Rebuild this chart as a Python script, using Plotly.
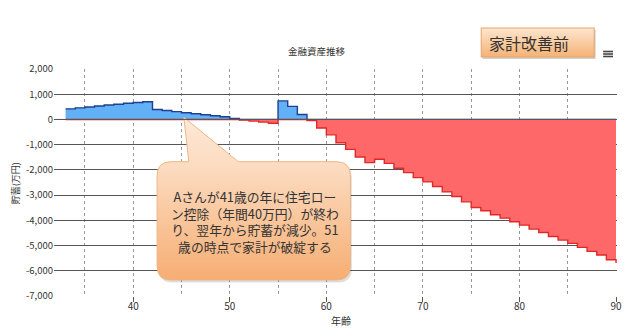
import base64
import numpy as np
import plotly.graph_objects as go

# ---------------- data ----------------
AGES = list(range(33, 91))
SAVINGS = [420, 460, 495, 535, 570, 605, 640, 670, 700,          # 33-41
           395, 355, 310, 265, 225, 185, 145, 105, 40,           # 42-50
           -25, -65, -105, -150,                                 # 51-54
           735, 520, 198, -40, -340,                             # 55-59
           -610, -922, -1186, -1490, -1713, -1581, -1740, -1937, -2108, -2306,  # 60-69
           -2477, -2661, -2872, -3057, -3267, -3491, -3623, -3781, -3913, -4058,  # 70-79
           -4190, -4348, -4480, -4638, -4783, -4914, -5072, -5230, -5375, -5561,  # 80-89
           -5690]                                                # 90

Y_TICKS = [2000, 1000, 0, -1000, -2000, -3000, -4000, -5000, -6000, -7000]
Y_TICK_LABELS = ["2,000", "1,000", "0", "-1,000", "-2,000", "-3,000",
                 "-4,000", "-5,000", "-6,000", "-7,000"]
X_TICKS = [40, 50, 60, 70, 80, 90]
X_TICK_LABELS = ["40", "50", "60", "70", "80", "90"]

TITLE = "金融資産推移"
X_TITLE = "年齢"
Y_TITLE = "貯蓄(万円)"
BADGE = "家計改善前"
CALLOUT_LINES = ["Aさんが41歳の年に住宅ロー",
                 "ン控除（年間40万円）が終わ",
                 "り、翌年から貯蓄が減少。51",
                 "歳の時点で家計が破綻する"]

# ---------------- layout geometry (pixels) ----------------
W, H = 630, 331
L, R, T, B = 54, 8, 69, 35
PW, PH = W - L - R, H - T - B


def px(xp):
    return (xp - L) / PW


def py(yp):
    return (H - B - yp) / PH


FONT = "Noto Sans CJK JP, Noto Sans, sans-serif"

vals = np.array(SAVINGS, dtype=float)
pos = np.maximum(vals, 0)
neg = np.minimum(vals, 0)

fig = go.Figure()
fig.add_trace(go.Scatter(x=AGES, y=pos, mode="lines", line_shape="hv",
                         line=dict(color="#1f3f8f", width=1.4),
                         fill="tozeroy", fillcolor="#62b0f6",
                         hoverinfo="skip", showlegend=False))
fig.add_trace(go.Scatter(x=AGES, y=neg, mode="lines", line_shape="hv",
                         line=dict(color="#e02828", width=1.4),
                         fill="tozeroy", fillcolor="#ff6868",
                         hoverinfo="skip", showlegend=False))


def svg_uri(svg):
    return "data:image/svg+xml;base64," + base64.b64encode(svg.encode("utf-8")).decode()


# callout bubble (origin at pixel 155,115)
cw, ch = 203, 169
path = ("M17,46.7 L35,46.7 L30,2.3 L85,46.7 L184,46.7 Q198,46.7 198,60.7 "
        "L198,151 Q198,165 184,165 L17,165 Q3,165 3,151 L3,60.7 Q3,46.7 17,46.7 Z")
callout_svg = f'''<svg xmlns="http://www.w3.org/2000/svg" width="{cw}" height="{ch}" viewBox="0 0 {cw} {ch}">
<defs><linearGradient id="g" x1="0" y1="0" x2="0" y2="{ch}" gradientUnits="userSpaceOnUse">
<stop offset="0" stop-color="#fde9d8"/><stop offset="0.3" stop-color="#fcdcc1"/>
<stop offset="1" stop-color="#f6ac70"/></linearGradient></defs>
<path d="{path}" transform="translate(1.5,2.5)" fill="#000" fill-opacity="0.13"/>
<path d="{path}" fill="url(#g)" stroke="#efb482" stroke-width="1"/>
</svg>'''

bw, bh = 120, 36
badge_svg = f'''<svg xmlns="http://www.w3.org/2000/svg" width="{bw}" height="{bh}" viewBox="0 0 {bw} {bh}">
<defs><linearGradient id="b" x1="0" y1="0" x2="0" y2="1">
<stop offset="0" stop-color="#fde6cf"/><stop offset="1" stop-color="#f5b274"/></linearGradient></defs>
<rect x="3.5" y="4" width="114" height="29" fill="#000" fill-opacity="0.18"/>
<rect x="2" y="2" width="114" height="29" fill="url(#b)" stroke="#e8a468" stroke-width="1"/>
</svg>'''

images = [
    dict(source=svg_uri(callout_svg), xref="paper", yref="paper",
         x=px(155), y=py(115), sizex=cw / PW, sizey=ch / PH,
         xanchor="left", yanchor="top", sizing="stretch", layer="above"),
    dict(source=svg_uri(badge_svg), xref="paper", yref="paper",
         x=px(483), y=py(26), sizex=bw / PW, sizey=bh / PH,
         xanchor="left", yanchor="top", sizing="stretch", layer="above"),
]

annotations = [
    dict(text="<br>".join(CALLOUT_LINES), xref="paper", yref="paper",
         x=px(257), y=py(221), xanchor="center", yanchor="middle", showarrow=False,
         align="center", font=dict(family=FONT, size=12.8, color="#333333")),
    dict(text=BADGE, xref="paper", yref="paper", x=px(533), y=py(43),
         xanchor="center", yanchor="middle", showarrow=False,
         font=dict(family=FONT, size=16, color="#333333")),
    dict(text=X_TITLE, xref="paper", yref="paper", x=px(343.5), y=py(320),
         xanchor="center", yanchor="middle", showarrow=False,
         font=dict(family=FONT, size=10, color="#333333")),
    dict(text=Y_TITLE, xref="paper", yref="paper", x=px(15), y=py(183),
         xanchor="center", yanchor="middle", showarrow=False, textangle=-90,
         font=dict(family=FONT, size=9, color="#333333")),
]

shapes = [dict(type="line", xref="paper", x0=0, x1=1, yref="y", y0=0, y1=0,
               line=dict(color="#555555", width=1), layer="above")]
for yy in (51.5, 54, 56.5):
    shapes.append(dict(type="line", xref="paper", yref="paper",
                       x0=px(608), x1=px(618), y0=py(yy), y1=py(yy),
                       line=dict(color="#444444", width=1.6)))

fig.update_layout(
    width=W, height=H,
    margin=dict(l=L, r=R, t=T, b=B, pad=0),
    paper_bgcolor="white", plot_bgcolor="white",
    title=dict(text=TITLE, x=316.5 / W, xanchor="center", y=1 - 52 / H, yanchor="middle",
               font=dict(family=FONT, size=9.5, color="#333333")),
    font=dict(family=FONT, color="#333333"),
    xaxis=dict(range=[31.8, 90.1], tickvals=X_TICKS, ticktext=X_TICK_LABELS,
               ticks="outside", ticklen=5, tickcolor="#555555", tickwidth=1,
               ticklabelstandoff=-4,
               showgrid=True, gridcolor="#999999", griddash="dot", gridwidth=1,
               minor=dict(dtick=5, tick0=0, showgrid=True, gridcolor="#999999",
                          griddash="dot", gridwidth=1, ticks=""),
               zeroline=False, showline=False,
               tickfont=dict(family=FONT, size=10, color="#333333")),
    yaxis=dict(range=[-7000, 2000], tickvals=Y_TICKS, ticktext=Y_TICK_LABELS,
               showgrid=True, gridcolor="#555555", gridwidth=1,
               zeroline=False, showline=False, ticks="",
               tickfont=dict(family=FONT, size=9.5, color="#333333")),
    images=images,
    annotations=annotations,
    shapes=shapes,
)

fig.write_html("out.html")
